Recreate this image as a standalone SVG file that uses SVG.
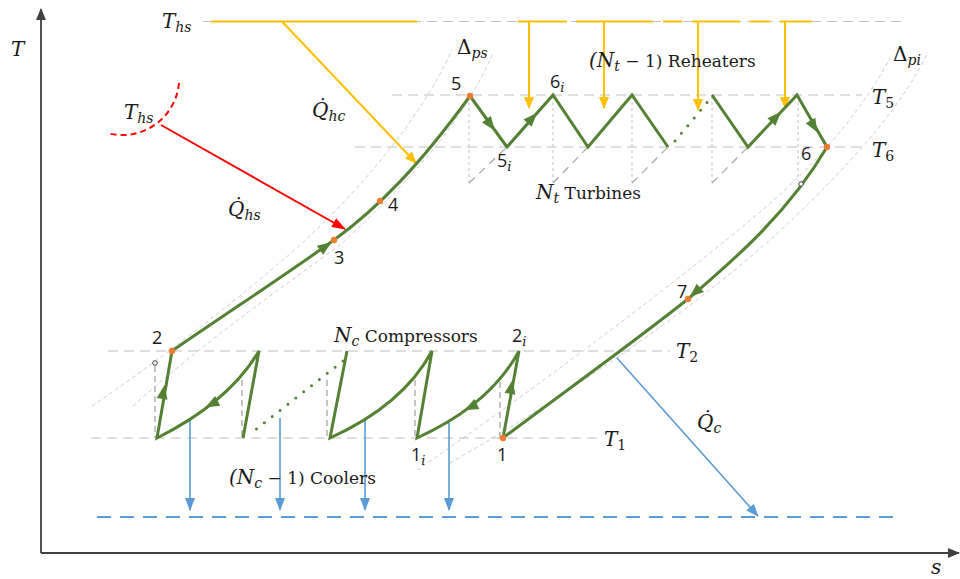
<svg xmlns="http://www.w3.org/2000/svg" xmlns:xlink="http://www.w3.org/1999/xlink" width="960" height="579" viewBox="0 0 960 579">
<style>
.ax{stroke:#404040;stroke-width:1.8;fill:none}
.iso{stroke:#BDBDBD;stroke-width:1.2;stroke-dasharray:10 6;fill:none}
.pr{stroke:#C8C8C8;stroke-width:0.9;stroke-dasharray:4 3;fill:none}
.vd{stroke:#A6A6A6;stroke-width:1.3;stroke-dasharray:6 4;fill:none}
.vt{stroke:#C0C0C0;stroke-width:1;stroke-dasharray:3 3;fill:none}
.dg{stroke:#A6A6A6;stroke-width:1.2;stroke-dasharray:8 6;fill:none}
.g{stroke:#548235;stroke-width:3;fill:none;stroke-linejoin:miter}
.gdot{stroke:#548235;stroke-width:3;fill:none;stroke-linecap:round;stroke-dasharray:0 10}
.y{stroke:#FFC000;stroke-width:2;fill:none}
.r{stroke:#FF0000;stroke-width:2;fill:none}
.rd{stroke:#FF0000;stroke-width:2;fill:none;stroke-dasharray:6 4}
.b{stroke:#5B9BD5;stroke-width:1.6;fill:none}
.bd{stroke:#5B9BD5;stroke-width:2;fill:none;stroke-dasharray:14 9}
.pt{fill:#ED7D31}
.hc{fill:#fff;stroke:#404040;stroke-width:1}
.mi{font-family:"DejaVu Serif","Liberation Serif",serif;font-style:italic;font-size:20px;fill:#1a1a1a}
.up{font-style:normal}
.sb{font-size:14px}
.w{font-family:"DejaVu Serif","Liberation Serif",serif;font-size:17px;fill:#1a1a1a}
.n{font-family:"Open Sans","DejaVu Sans",sans-serif;font-size:18px;fill:#1a1a1a}
.ni{font-family:"DejaVu Serif",serif;font-style:italic;font-size:13px}
</style>
<defs>
<marker id="ay" markerUnits="userSpaceOnUse" markerWidth="12" markerHeight="10" refX="11" refY="5" orient="auto"><path d="M0,0 L12,5 L0,10 Z" fill="#FFC000"/></marker>
<marker id="ar" markerUnits="userSpaceOnUse" markerWidth="14" markerHeight="10" refX="13" refY="5" orient="auto"><path d="M0,0 L14,5 L0,10 Z" fill="#FF0000"/></marker>
<marker id="ab" markerUnits="userSpaceOnUse" markerWidth="13" markerHeight="10" refX="12" refY="5" orient="auto"><path d="M0,0 L13,5 L0,10 Z" fill="#5B9BD5"/></marker>
<marker id="ak" markerUnits="userSpaceOnUse" markerWidth="12" markerHeight="10" refX="11" refY="5" orient="auto"><path d="M0,0 L12,5 L0,10 Z" fill="#404040"/></marker>
<path id="gh" d="M3,0 L-11,-5.5 L-11,5.5 Z" fill="#548235"/>
</defs>

<g id="axes">
<line class="ax" x1="41" y1="553" x2="41" y2="9" marker-end="url(#ak)"/>
<line class="ax" x1="41" y1="553" x2="959" y2="553" marker-end="url(#ak)"/>
<text class="mi" x="11" y="56">T</text>
<text class="mi" x="931" y="574">s</text>
</g>

<g id="isotherms">
<line class="iso" x1="392" y1="95" x2="862" y2="95"/>
<line class="iso" x1="355" y1="147" x2="862" y2="147"/>
<line class="iso" x1="108" y1="351" x2="670" y2="351"/>
<line class="iso" x1="91" y1="438" x2="598" y2="438"/>
<line class="iso" x1="203" y1="21.5" x2="905" y2="21.5"/>
<text class="mi" x="872" y="104">T<tspan class="sb up" dy="4">5</tspan></text>
<text class="mi" x="872" y="157">T<tspan class="sb up" dy="4">6</tspan></text>
<text class="mi" x="676" y="358">T<tspan class="sb up" dy="4">2</tspan></text>
<text class="mi" x="604" y="446">T<tspan class="sb up" dy="4">1</tspan></text>
</g>

<g id="pressure-lines">
<path class="pr" d="M92,406 C160,360 250,290 300,245 C360,190 420,120 452,50"/>
<path class="pr" d="M133,406 C200,345 285,285 340,245 C400,190 460,130 493,53"/>
<path class="pr" d="M417,470 C520,400 680,280 760,212 C810,170 860,115 890,58"/>
<path class="pr" d="M450,463 C560,400 710,300 800,212 C850,163 900,110 928,52"/>
<text class="mi up" x="457" y="54">Δ<tspan class="sb" font-style="italic" dy="4">ps</tspan></text>
<text class="mi up" x="893" y="61">Δ<tspan class="sb" font-style="italic" dy="4">pi</tspan></text>
</g>

<g id="guides">
<line class="vt" x1="469" y1="96" x2="469" y2="183"/>
<line class="dg" x1="469" y1="183" x2="507" y2="147"/>
<line class="vt" x1="553" y1="96" x2="553" y2="183"/>
<line class="dg" x1="553" y1="183" x2="588" y2="147"/>
<line class="vt" x1="632" y1="96" x2="632" y2="183"/>
<line class="dg" x1="632" y1="183" x2="668" y2="147"/>
<line class="vt" x1="712" y1="96" x2="712" y2="183"/>
<line class="dg" x1="712" y1="183" x2="748" y2="147"/>
<line class="vt" x1="798" y1="96" x2="798" y2="181"/>
<line class="vd" x1="155" y1="366" x2="155" y2="438"/>
<line class="vd" x1="242" y1="380" x2="242" y2="438"/>
<line class="vd" x1="327" y1="380" x2="327" y2="438"/>
<line class="vd" x1="415" y1="380" x2="415" y2="438"/>
<line class="vd" x1="500" y1="382" x2="500" y2="438"/>
</g>

<g id="heat-source">
<line class="y" x1="211" y1="21.5" x2="417" y2="21.5"/>
<line class="y" x1="518" y1="21.5" x2="567" y2="21.5"/>
<line class="y" x1="576" y1="21.5" x2="653" y2="21.5"/>
<line class="y" x1="663" y1="21.5" x2="682" y2="21.5"/>
<line class="y" x1="692" y1="21.5" x2="740" y2="21.5"/>
<line class="y" x1="750" y1="21.5" x2="770" y2="21.5"/>
<line class="y" x1="780" y1="21.5" x2="812" y2="21.5"/>
<line class="y" x1="282" y1="21.5" x2="416" y2="163" marker-end="url(#ay)"/>
<line class="y" x1="529" y1="21.5" x2="529" y2="108" marker-end="url(#ay)"/>
<line class="y" x1="604" y1="21.5" x2="604" y2="108" marker-end="url(#ay)"/>
<line class="y" x1="698" y1="21.5" x2="698" y2="110" marker-end="url(#ay)"/>
<line class="y" x1="785" y1="21.5" x2="785" y2="108" marker-end="url(#ay)"/>
<text class="mi" x="162" y="28">T<tspan class="sb" dy="4">hs</tspan></text>
<text class="mi" x="312" y="117">Q&#x307;<tspan class="sb" dy="4">hc</tspan></text>
<text class="w" x="589" y="67"><tspan class="mi">(N</tspan><tspan class="mi sb" dy="4">t</tspan><tspan dy="-4"> − 1) Reheaters</tspan></text>
</g>

<g id="heat-source-2">
<path class="rd" d="M179,83 A57,57 0 0 1 107,133"/>
<line class="r" x1="161" y1="125" x2="345" y2="229" marker-end="url(#ar)"/>
<text class="mi" x="124" y="119">T<tspan class="sb" dy="4">hs</tspan></text>
<text class="mi" x="228" y="216">Q&#x307;<tspan class="sb" dy="4">hs</tspan></text>
</g>

<g id="cooling">
<line class="bd" x1="97" y1="517" x2="893" y2="517"/>
<line class="b" x1="190" y1="419" x2="190" y2="510" marker-end="url(#ab)"/>
<line class="b" x1="280" y1="418" x2="280" y2="510" marker-end="url(#ab)"/>
<line class="b" x1="365" y1="418" x2="365" y2="510" marker-end="url(#ab)"/>
<line class="b" x1="449" y1="421" x2="449" y2="510" marker-end="url(#ab)"/>
<line class="b" x1="617" y1="358" x2="758" y2="516" marker-end="url(#ab)"/>
<text class="mi" x="697" y="429">Q&#x307;<tspan class="sb" dy="4">c</tspan></text>
<text class="w" x="229" y="484"><tspan class="mi">(N</tspan><tspan class="mi sb" dy="4">c</tspan><tspan dy="-4"> − 1) Coolers</tspan></text>
</g>

<g id="connectors">
<path class="g" d="M172,351 C230,311 290,272 334,240 S420,165 470,96"/>
<polyline class="g" points="470,96 507,147 553,95 588,147 632,95 668,147"/>
<line class="gdot" x1="675" y1="141" x2="710" y2="99"/>
<polyline class="g" points="712,95 748,147 797,95 827,147"/>
<path class="g" d="M827,147 C790,210 740,255 688,299 C630,345 560,395 503,438"/>
<path class="g" d="M503,438 L519,351 Q490,405 417,438 L432,351 Q403,405 330,438 L347,351"/>
<line class="gdot" x1="343" y1="361" x2="250" y2="434"/>
<path class="g" d="M243,438 L259,351 Q229,402 157,438 L172,351"/>
<use xlink:href="#gh" href="#gh" transform="translate(329,244) rotate(-35)"/>
<use xlink:href="#gh" href="#gh" transform="translate(493,128) rotate(53.5)"/>
<use xlink:href="#gh" href="#gh" transform="translate(535,115) rotate(-47.5)"/>
<use xlink:href="#gh" href="#gh" transform="translate(779,114) rotate(-46.7)"/>
<use xlink:href="#gh" href="#gh" transform="translate(816,130) rotate(60)"/>
<use xlink:href="#gh" href="#gh" transform="translate(692,295) rotate(139)"/>
<use xlink:href="#gh" href="#gh" transform="translate(512,383) rotate(-79.6)"/>
<use xlink:href="#gh" href="#gh" transform="translate(467,409) rotate(153)"/>
<use xlink:href="#gh" href="#gh" transform="translate(208,406) rotate(152)"/>
<use xlink:href="#gh" href="#gh" transform="translate(164,388) rotate(-80)"/>
<text class="w" x="334" y="342"><tspan class="mi">N</tspan><tspan class="mi sb" dy="4">c</tspan><tspan dy="-4"> Compressors</tspan></text>
<text class="w" x="536" y="199"><tspan class="mi">N</tspan><tspan class="mi sb" dy="4">t</tspan><tspan dy="-4"> Turbines</tspan></text>
</g>

<g id="state-1"><circle class="pt" cx="503" cy="438" r="3.2"/><text class="n" x="497" y="461">1</text></g>
<g id="state-1i"><text class="n" x="411" y="461">1<tspan class="ni" dy="4">i</tspan></text></g>
<g id="state-2"><circle class="pt" cx="172" cy="351" r="3.2"/><circle class="hc" cx="155" cy="363" r="2.3"/><text class="n" x="152" y="344">2</text></g>
<g id="state-2i"><text class="n" x="512" y="342">2<tspan class="ni" dy="4">i</tspan></text></g>
<g id="state-3"><circle class="pt" cx="334" cy="240" r="3.2"/><text class="n" x="334" y="264">3</text></g>
<g id="state-4"><circle class="pt" cx="380" cy="201" r="3.2"/><text class="n" x="388" y="211">4</text></g>
<g id="state-5"><circle class="pt" cx="470" cy="96" r="3.2"/><text class="n" x="451" y="90">5</text></g>
<g id="state-5i"><text class="n" x="497" y="167">5<tspan class="ni" dy="4">i</tspan></text></g>
<g id="state-6i"><text class="n" x="550" y="88">6<tspan class="ni" dy="4">i</tspan></text></g>
<g id="state-6"><circle class="pt" cx="827" cy="147" r="3.2"/><circle class="hc" cx="801" cy="184" r="2.3"/><text class="n" x="801" y="160">6</text></g>
<g id="state-7"><circle class="pt" cx="688" cy="299" r="3.2"/><text class="n" x="677" y="298">7</text></g>
</svg>
